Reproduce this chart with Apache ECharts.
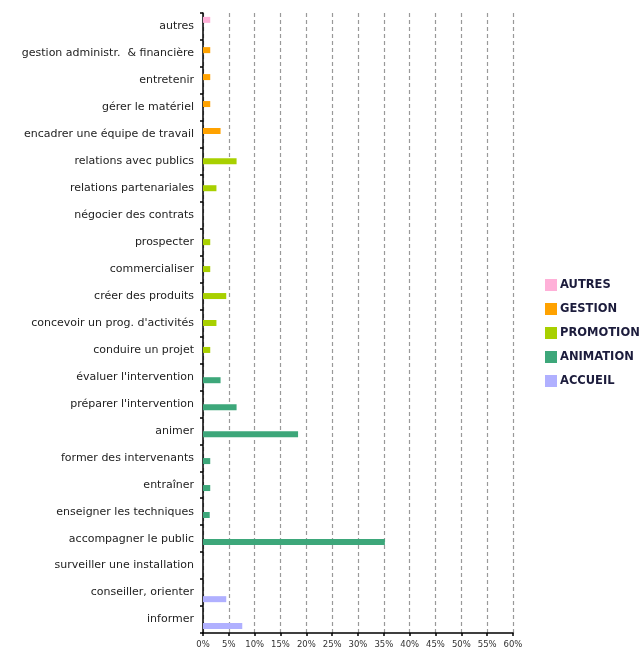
<!DOCTYPE html>
<html><head><meta charset="utf-8">
<script src="https://cdn.jsdelivr.net/npm/echarts@6/dist/echarts.min.js"></script>
<style>html,body{margin:0;padding:0;background:#fff}#c{width:642px;height:649px}</style>
</head><body><div id="c"></div>
<script>
// categories, top to bottom
const categories = [
  "autres",
  "gestion administr.  & financière",
  "entretenir",
  "gérer le matériel",
  "encadrer une équipe de travail",
  "relations avec publics",
  "relations partenariales",
  "négocier des contrats",
  "prospecter",
  "commercialiser",
  "créer des produits",
  "concevoir un prog. d'activités",
  "conduire un projet",
  "évaluer l'intervention",
  "préparer l'intervention",
  "animer",
  "former des intervenants",
  "entraîner",
  "enseigner les techniques",
  "accompagner le public",
  "surveiller une installation",
  "conseiller, orienter",
  "informer"
];
const seriesNames = ["AUTRES", "GESTION", "PROMOTION", "ANIMATION", "ACCUEIL"];
const autres    = [1.4, null, null, null, null, null, null, null, null, null, null, null, null, null, null, null, null, null, null, null, null, null, null];
const gestion   = [null, 1.4, 1.4, 1.4, 3.4, null, null, null, null, null, null, null, null, null, null, null, null, null, null, null, null, null, null];
const promotion = [null, null, null, null, null, 6.5, 2.6, 0, 1.4, 1.4, 4.5, 2.6, 1.4, null, null, null, null, null, null, null, null, null, null];
const animation = [null, null, null, null, null, null, null, null, null, null, null, null, null, 3.4, 6.5, 18.4, 1.4, 1.4, 1.3, 35.2, null, null, null];
const accueil   = [null, null, null, null, null, null, null, null, null, null, null, null, null, null, null, null, null, null, null, null, 0, 4.5, 7.6];
const xTicks = [0, 5, 10, 15, 20, 25, 30, 35, 40, 45, 50, 55, 60];
const colors = ["#ffb0d8", "#ffa200", "#a8d000", "#3da77a", "#b0b0ff"];

const seriesData = [autres, gestion, promotion, animation, accueil];
const chart = echarts.init(document.getElementById('c'), null, {renderer: 'canvas'});
chart.setOption({
  animation: false,
  color: colors,
  grid: {left: 203, right: 129, top: 13, bottom: 16, containLabel: false},
  legend: {
    orient: 'vertical', left: 540, top: 274,
    itemWidth: 12, itemHeight: 12, itemGap: 12,
    icon: 'rect',
    textStyle: {fontFamily: 'DejaVu Sans', fontSize: 11.5, fontWeight: 'bold', color: '#1c1c3c', padding: [0,0,0,-2]},
    data: seriesNames
  },
  xAxis: {
    type: 'value', min: 0, max: 60, interval: 5,
    axisLine: {show: true, lineStyle: {color: '#000', width: 1.5}},
    axisTick: {show: true, length: 3, lineStyle: {color: '#000', width: 1.5}},
    axisLabel: {fontFamily: 'DejaVu Sans', fontSize: 8.5, color: '#333', margin: 7,
      formatter: v => xTicks.includes(v) ? v + '%' : ''},
    splitLine: {show: true, lineStyle: {color: '#999', type: [4, 3], width: 1.2}}
  },
  yAxis: {
    type: 'category', data: categories, inverse: true,
    axisLine: {show: true, lineStyle: {color: '#000', width: 1.5}},
    axisTick: {show: true, length: 3, inside: false, lineStyle: {color: '#000', width: 1.5}},
    axisLabel: {fontFamily: 'DejaVu Sans', fontSize: 11, color: '#222', margin: 9},
    splitLine: {show: false}
  },
  series: seriesNames.map((n, i) => ({
    name: n, type: 'bar', data: seriesData[i],
    barWidth: 6, barGap: '-45%', barCategoryGap: '30%'
  }))
});
</script>
</body></html>
